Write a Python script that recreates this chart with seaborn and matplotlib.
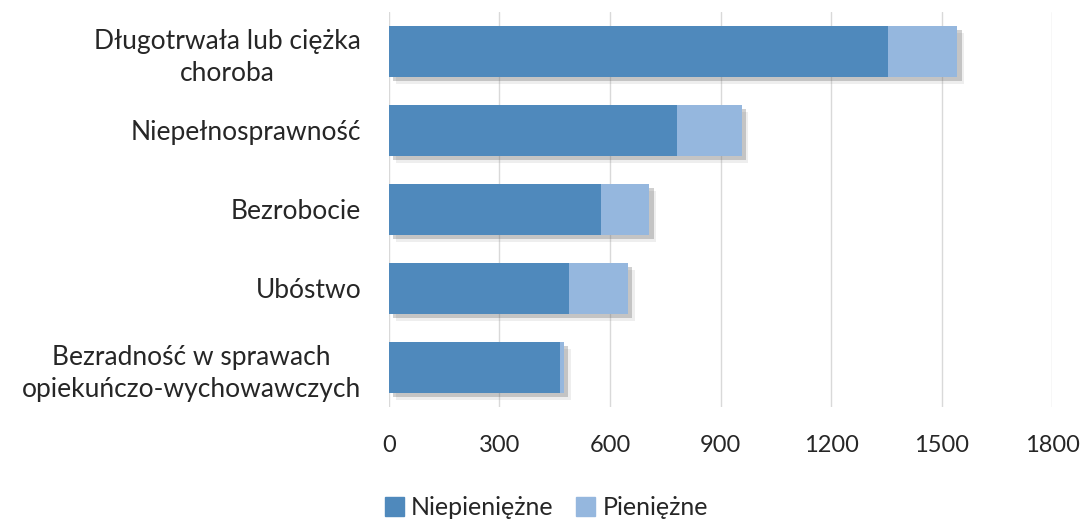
import matplotlib
matplotlib.use("Agg")
import matplotlib.pyplot as plt
import matplotlib.patheffects as pe
from matplotlib.patches import Patch
import numpy as np
import seaborn as sns

# values
categories = [
    "Długotrwała lub ciężka\nchoroba",
    "Niepełnosprawność",
    "Bezrobocie",
    "Ubóstwo",
    "Bezradność w sprawach\nopiekuńczo-wychowawczych",
]
niepieniezne = [1355, 782, 575, 489, 465]
pieniezne = [188, 175, 132, 159, 9]
x_ticks = [0, 300, 600, 900, 1200, 1500, 1800]

DARK = "#4f89bc"
LIGHT = "#95b7de"

sns.set_theme(style="white")
plt.rcParams["font.family"] = ["Lato", "DejaVu Sans"]

fig = plt.figure(figsize=(10.82, 5.21), dpi=100)
ax = fig.add_axes([0.3595, 0.219, 0.6128, 0.758])

totals = np.array(niepieniezne) + np.array(pieniezne)
# soft excel-like drop shadow
shadow = [
    pe.SimplePatchShadow(offset=(5, -5), shadow_rgbFace="#777777", alpha=0.12),
    pe.SimplePatchShadow(offset=(3, -3), shadow_rgbFace="#666666", alpha=0.3),
    pe.Normal(),
]

# total bar (light) first, then the dark part over it
sns.barplot(x=totals, y=categories, color=LIGHT, saturation=1, width=0.65, orient="h", ax=ax)
n_light = len(ax.patches)
sns.barplot(x=niepieniezne, y=categories, color=DARK, saturation=1, width=0.65, orient="h", ax=ax)
for p in ax.patches[:n_light]:
    p.set_path_effects(shadow)
    p.set_linewidth(0)
for p in ax.patches[n_light:]:
    p.set_linewidth(0)

ax.set_xlim(0, 1800)
ax.set_ylim(4.5, -0.5)
ax.set_xticks(x_ticks)
ax.set_xticklabels([str(t) for t in x_ticks])
ax.xaxis.grid(True, color="#d9d9d9", linewidth=1)
ax.set_axisbelow(True)
for s in ax.spines.values():
    s.set_visible(False)
ax.tick_params(axis="x", length=0, pad=20, labelsize=17, labelcolor="#262626")
ax.tick_params(axis="y", length=0, pad=20, labelsize=19, labelcolor="#262626")
for lab in ax.get_yticklabels():
    lab.set_multialignment("center")
    lab.set_linespacing(1.35)
ax.set_xlabel("")
ax.set_ylabel("")

handles = [Patch(color=DARK, label="Niepieniężne"), Patch(color=LIGHT, label="Pieniężne")]
fig.legend(handles=handles, loc="lower center", bbox_to_anchor=(0.505, -0.04), ncol=2,
           frameon=False, fontsize=18, handlelength=0.75, handleheight=0.75,
           handletextpad=0.3, columnspacing=0.9, labelcolor="#262626")

fig.savefig("out.png", dpi=100)
